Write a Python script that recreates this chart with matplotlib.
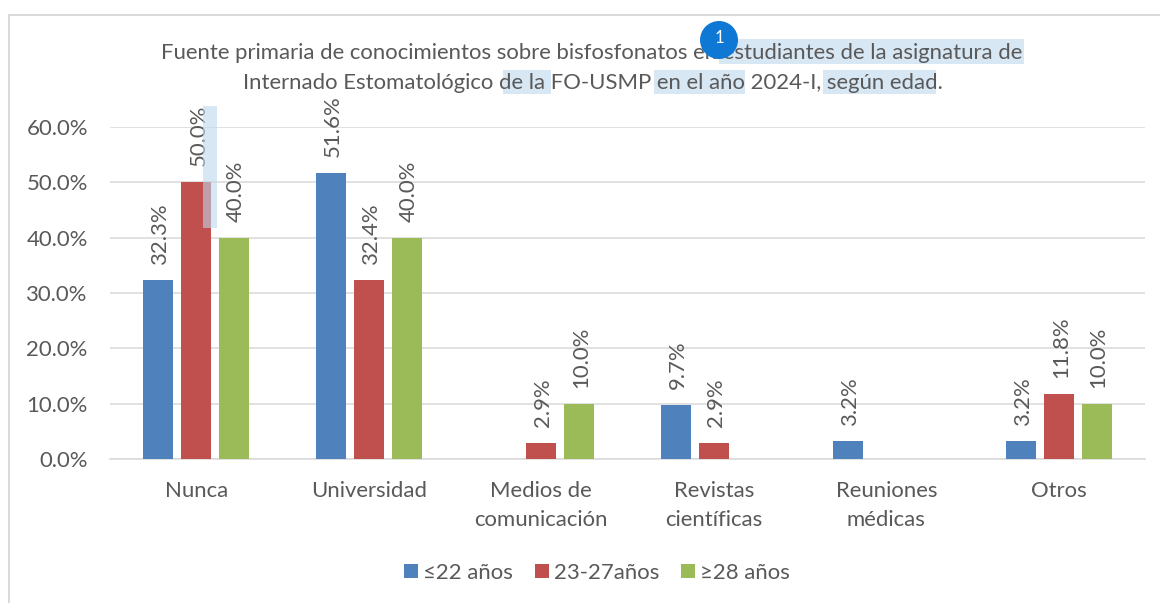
import numpy as np
import matplotlib
matplotlib.use("Agg")
import matplotlib.pyplot as plt
from matplotlib.patches import Rectangle, Circle
from matplotlib.lines import Line2D

categories = ["Nunca", "Universidad", "Medios de\ncomunicación", "Revistas\ncientíficas", "Reuniones\nmédicas", "Otros"]
series_names = ["≤22 años", "23-27años", "≥28 años"]
young = [32.3, 51.6, np.nan, 9.7, 3.2, 3.2]
middle = [50.0, 32.4, 2.9, 2.9, np.nan, 11.8]
older = [40.0, 40.0, 10.0, np.nan, np.nan, 10.0]
colors = ["#4F81BD", "#C0504D", "#9BBB59"]
yticks = [0, 10, 20, 30, 40, 50, 60]
title1 = "Fuente primaria de conocimientos sobre bisfosfonatos en estudiantes de la asignatura de"
title2 = "Internado Estomatológico de la FO-USMP en el año 2024-I, según edad."

plt.rcParams['font.family'] = ['Lato', 'DejaVu Sans']
W, H = 1160, 603
TXT = "#595959"
FS = 15.9
fig = plt.figure(figsize=(W/100, H/100), dpi=100, facecolor="white")
ax = fig.add_axes([110/W, (H-459)/H, 1035/W, 332/H])

def px(x0, y0, x1, y1, **kw):
    fig.add_artist(Rectangle((x0/W, 1-y1/H), (x1-x0)/W, (y1-y0)/H, transform=fig.transFigure, **kw))

x = np.arange(len(categories))
pitch, bw = 0.22, 0.174
for i, (vals, c, n) in enumerate(zip([young, middle, older], colors, series_names)):
    pos = x + (i-1)*pitch
    ax.bar(pos, vals, bw, color=c, label=n, zorder=3)
    for p, v in zip(pos, vals):
        if not np.isnan(v):
            ax.annotate(f"{v:.1f}%", (p, v), xytext=(2, 16), textcoords="offset pixels",
                        rotation=90, ha="center", va="bottom", fontsize=FS, color=TXT, zorder=5)

ax.set_xlim(-0.5, 5.5)
ax.set_ylim(0, 60)
ax.set_yticks(yticks, [f"{t:.1f}%" for t in yticks])
ax.set_xticks(x, categories)
ax.tick_params(length=0, labelsize=FS, labelcolor=TXT)
ax.tick_params(axis="x", pad=15.5)
ax.tick_params(axis="y", pad=16)
for label in ax.get_xticklabels():
    label.set_linespacing(1.6)
ax.grid(axis="y", color="#D9D9D9", lw=1.1, zorder=0)
ax.set_axisbelow(True)
for s in ["top", "left", "right"]:
    ax.spines[s].set_visible(False)
ax.spines["bottom"].set_color("#D9D9D9")
ax.spines["bottom"].set_linewidth(1.1)

# outer chart frame
fig.add_artist(Line2D([9/W, 9/W, 1], [0, 1-15/H, 1-15/H], transform=fig.transFigure, color="#D9D9D9", lw=1.4))

# selection highlights sit behind the title text
hl = dict(facecolor="#BDD7EE", alpha=0.6, edgecolor="none")
px(719, 39.5, 1024, 63.5, zorder=1, **hl)
px(503, 70, 551, 94, zorder=1, **hl)
px(654, 70, 745, 94, zorder=1, **hl)
px(822.5, 70, 935.5, 94, zorder=1, **hl)
px(203, 106, 217, 228, zorder=6, **hl)

fig.text(592/W, 1-53/H, title1, ha="center", va="center", fontsize=FS, color=TXT, zorder=3)
fig.text(593/W, 1-83/H, title2, ha="center", va="center", fontsize=FS, color=TXT, zorder=3)

# comment badge
fig.add_artist(Circle((719, H-40), 19, transform=None, facecolor="#0F78D4", edgecolor="none", zorder=7))
fig.text(719/W, 1-38/H, "1", ha="center", va="center", fontsize=12, color="white", zorder=8)

leg = fig.legend(loc="center", bbox_to_anchor=(597/W, 1-573/H), ncol=3, frameon=False, fontsize=FS,
                 handlelength=0.63, handleheight=0.63, handletextpad=0.23, columnspacing=1.0,
                 labelcolor=TXT, borderpad=0)
fig.savefig("out.png", dpi=100, facecolor="white")
